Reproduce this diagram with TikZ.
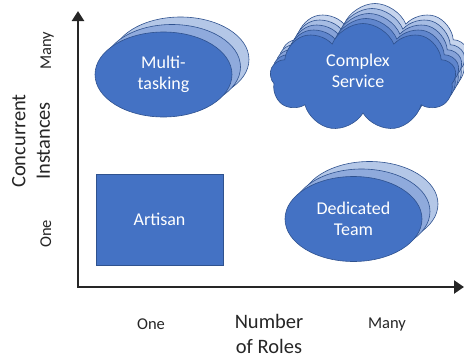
\documentclass[tikz,border=0pt]{standalone}
\usepackage{fontspec}
\setmainfont{Carlito}
\usetikzlibrary{shapes.geometric,shapes.symbols,arrows.meta}

\definecolor{fillblue}{HTML}{4472C4}
\definecolor{edgeblue}{HTML}{2F528F}
\definecolor{midblue}{HTML}{8FAADC}
\definecolor{paleblue}{HTML}{B4C7E7}
\definecolor{layerA}{HTML}{C6D4ED}
\definecolor{layerB}{HTML}{A6BCE3}
\definecolor{layerC}{HTML}{86A2D8}
\definecolor{layerD}{HTML}{5F85CC}
\definecolor{inkgray}{HTML}{262626}

\begin{document}
\begin{tikzpicture}[x=1pt,y=-1pt,
  shapebase/.style={draw=edgeblue, line width=0.6pt, inner sep=0pt},
  oval/.style={shapebase, ellipse, minimum width=137pt, minimum height=85pt},
  puff/.style={shapebase, cloud, cloud puffs=9, cloud puff arc=135,
    cloud ignores aspect, minimum width=186pt, minimum height=108pt},
  inlabel/.style={text=white, font=\fontsize{18}{20.5}\selectfont, align=center},
  axisline/.style={line width=2.4pt, draw=inkgray},
  ticklabel/.style={font=\fontsize{16.5}{20}\selectfont, text=inkgray},
  axistitle/.style={font=\fontsize{20.5}{24.5}\selectfont, align=center, text=inkgray}]
\useasboundingbox (0,0) rectangle (464,359);

% axes
\coordinate (origin) at (78,287);
\coordinate (ytop) at (78,11);
\coordinate (xend) at (464,287);
\draw[axisline, {Triangle[length=10pt,width=12pt]}-{Triangle[length=10pt,width=13pt]}]
  (ytop) -- (origin) -- (xend);

% one role, one instance
\node[shapebase, fill=fillblue, minimum width=127pt, minimum height=91pt, inlabel]
  (artisan) at (159.5,219.5) {Artisan};

% one role, many instances
\node[oval, fill=paleblue] (mt3) at (180.5,59.5) {};
\node[oval, fill=midblue] (mt2) at (172,67) {};
\node[oval, fill=fillblue, inlabel] (mt) at (163.5,74.5) {Multi-\\tasking};

% many roles, one instance
\node[oval, fill=paleblue] (dt3) at (369.5,204) {};
\node[oval, fill=midblue] (dt2) at (361.5,211.5) {};
\node[oval, fill=fillblue, inlabel] (dt) at (353.5,219) {Dedicated\\Team};

% many roles, many instances
\node[puff, fill=layerA] (cs4) at (375,57.5) {};
\node[puff, fill=layerB] (cs3) at (372,62.5) {};
\node[puff, fill=layerC] (cs2) at (369,67.5) {};
\node[puff, fill=layerD] (cs1) at (366,72.5) {};
\node[puff, fill=fillblue] (cs) at (363,77.5) {};
\node[inlabel] (cstext) at (358,71) {Complex\\Service};

% axis labels
\node[axistitle, rotate=90] (ytitle) at (31,141) {Concurrent\\Instances};
\node[axistitle] (xtitle) at (269,334) {Number\\of Roles};
\node[ticklabel, rotate=90, anchor=base] (ymany) at (51,51) {Many};
\node[ticklabel, rotate=90, anchor=base] (yone) at (51,234) {One};
\node[ticklabel, anchor=base] (xone) at (151,329) {One};
\node[ticklabel, anchor=base] (xmany) at (387,328) {Many};
\end{tikzpicture}
\end{document}
